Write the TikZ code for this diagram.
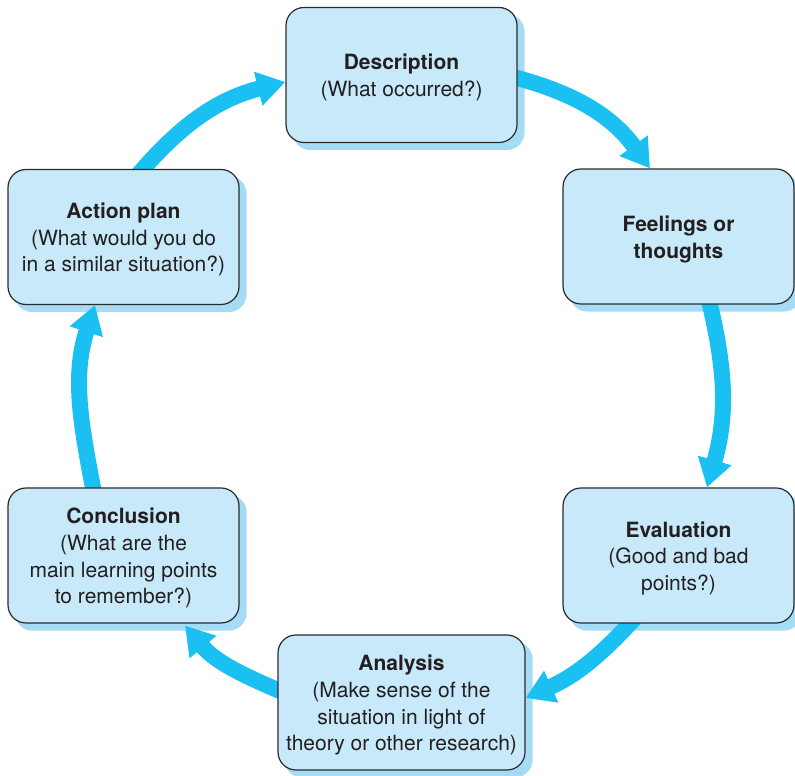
\documentclass[tikz,border=0pt]{standalone}
\usepackage{fontspec}
\setmainfont{TeX Gyre Heros}
\usetikzlibrary{arrows.meta}
\definecolor{boxfill}{HTML}{C7E9F9}
\definecolor{boxshadow}{HTML}{A5DBF4}
\definecolor{boxline}{HTML}{2B2B2B}
\definecolor{arrowblue}{HTML}{19C0F1}
\definecolor{txt}{HTML}{231F20}
\newcommand\mytopstrut{\rule{0pt}{21pt}}
\pgfdeclarelayer{shadowlayer}
\pgfdeclarelayer{arrowlayer}
\pgfsetlayers{shadowlayer,arrowlayer,main}
\begin{document}
\begin{tikzpicture}[x=1pt,y=1pt,
  stage/.style={draw=boxline, line width=1.2pt, fill=boxfill, rounded corners=18pt,
    minimum width=231pt, minimum height=135pt, inner sep=0pt, align=center, text=txt,
    font=\fontsize{21}{26.7}\selectfont},
  boxshade/.style={fill=boxshadow, rounded corners=18pt},
  flow/.style={draw=arrowblue, line width=16pt, -{Triangle[width=33pt,length=28pt]}}]
\useasboundingbox (0,0) rectangle (795,776);

\node[stage] (desc) at (401.5,701) {\mytopstrut\textbf{Description}\\(What occurred?)};
\node[stage] (feel) at (678.5,539.5) {\mytopstrut\textbf{Feelings or}\\\textbf{thoughts}};
\node[stage] (eval) at (678.5,220.5) {\mytopstrut\textbf{Evaluation}\\(Good and bad\\points?)};
\node[stage, minimum width=247pt] (ana) at (401.5,73.5) {\mytopstrut\textbf{Analysis}\\(Make sense of the\\situation in light of\\theory or other research)};
\node[stage] (conc) at (123.5,220.5) {\mytopstrut\textbf{Conclusion}\\(What are the\\main learning points\\to remember?)};
\node[stage] (act) at (123.5,539) {\mytopstrut\textbf{Action plan}\\(What would you do\\in a similar situation?)};

\begin{pgfonlayer}{shadowlayer}
  \foreach \n in {desc,feel,eval,ana,conc,act}
    \fill[boxshade] ([shift={(7pt,-7pt)}]\n.south west) rectangle ([shift={(7pt,-7pt)}]\n.north east);
\end{pgfonlayer}

\begin{pgfonlayer}{arrowlayer}
\draw[flow] ([xshift=11pt,yshift=-10pt]act.north) to[out=50,in=194] ([yshift=-7pt]desc.west);
\draw[flow] ([xshift=-10pt,yshift=-0.5pt]desc.east) to[out=-14,in=126] ([xshift=-28.5pt]feel.north);
\draw[flow] ([xshift=29pt,yshift=10pt]feel.south) to[out=-76,in=74] ([xshift=28.5pt]eval.north);
\draw[flow] ([xshift=-39.5pt,yshift=10pt]eval.south) to[out=228,in=24] ([yshift=4.5pt]ana.east);
\draw[flow] ([xshift=10pt,yshift=8.3pt]ana.west) to[out=157,in=310] ([xshift=61.5pt,yshift=-2pt]conc.south);
\draw[flow] ([xshift=-28.6pt,yshift=-10pt]conc.north) to[out=101,in=252] ([xshift=-28.5pt]act.south);
\end{pgfonlayer}
\end{tikzpicture}
\end{document}
